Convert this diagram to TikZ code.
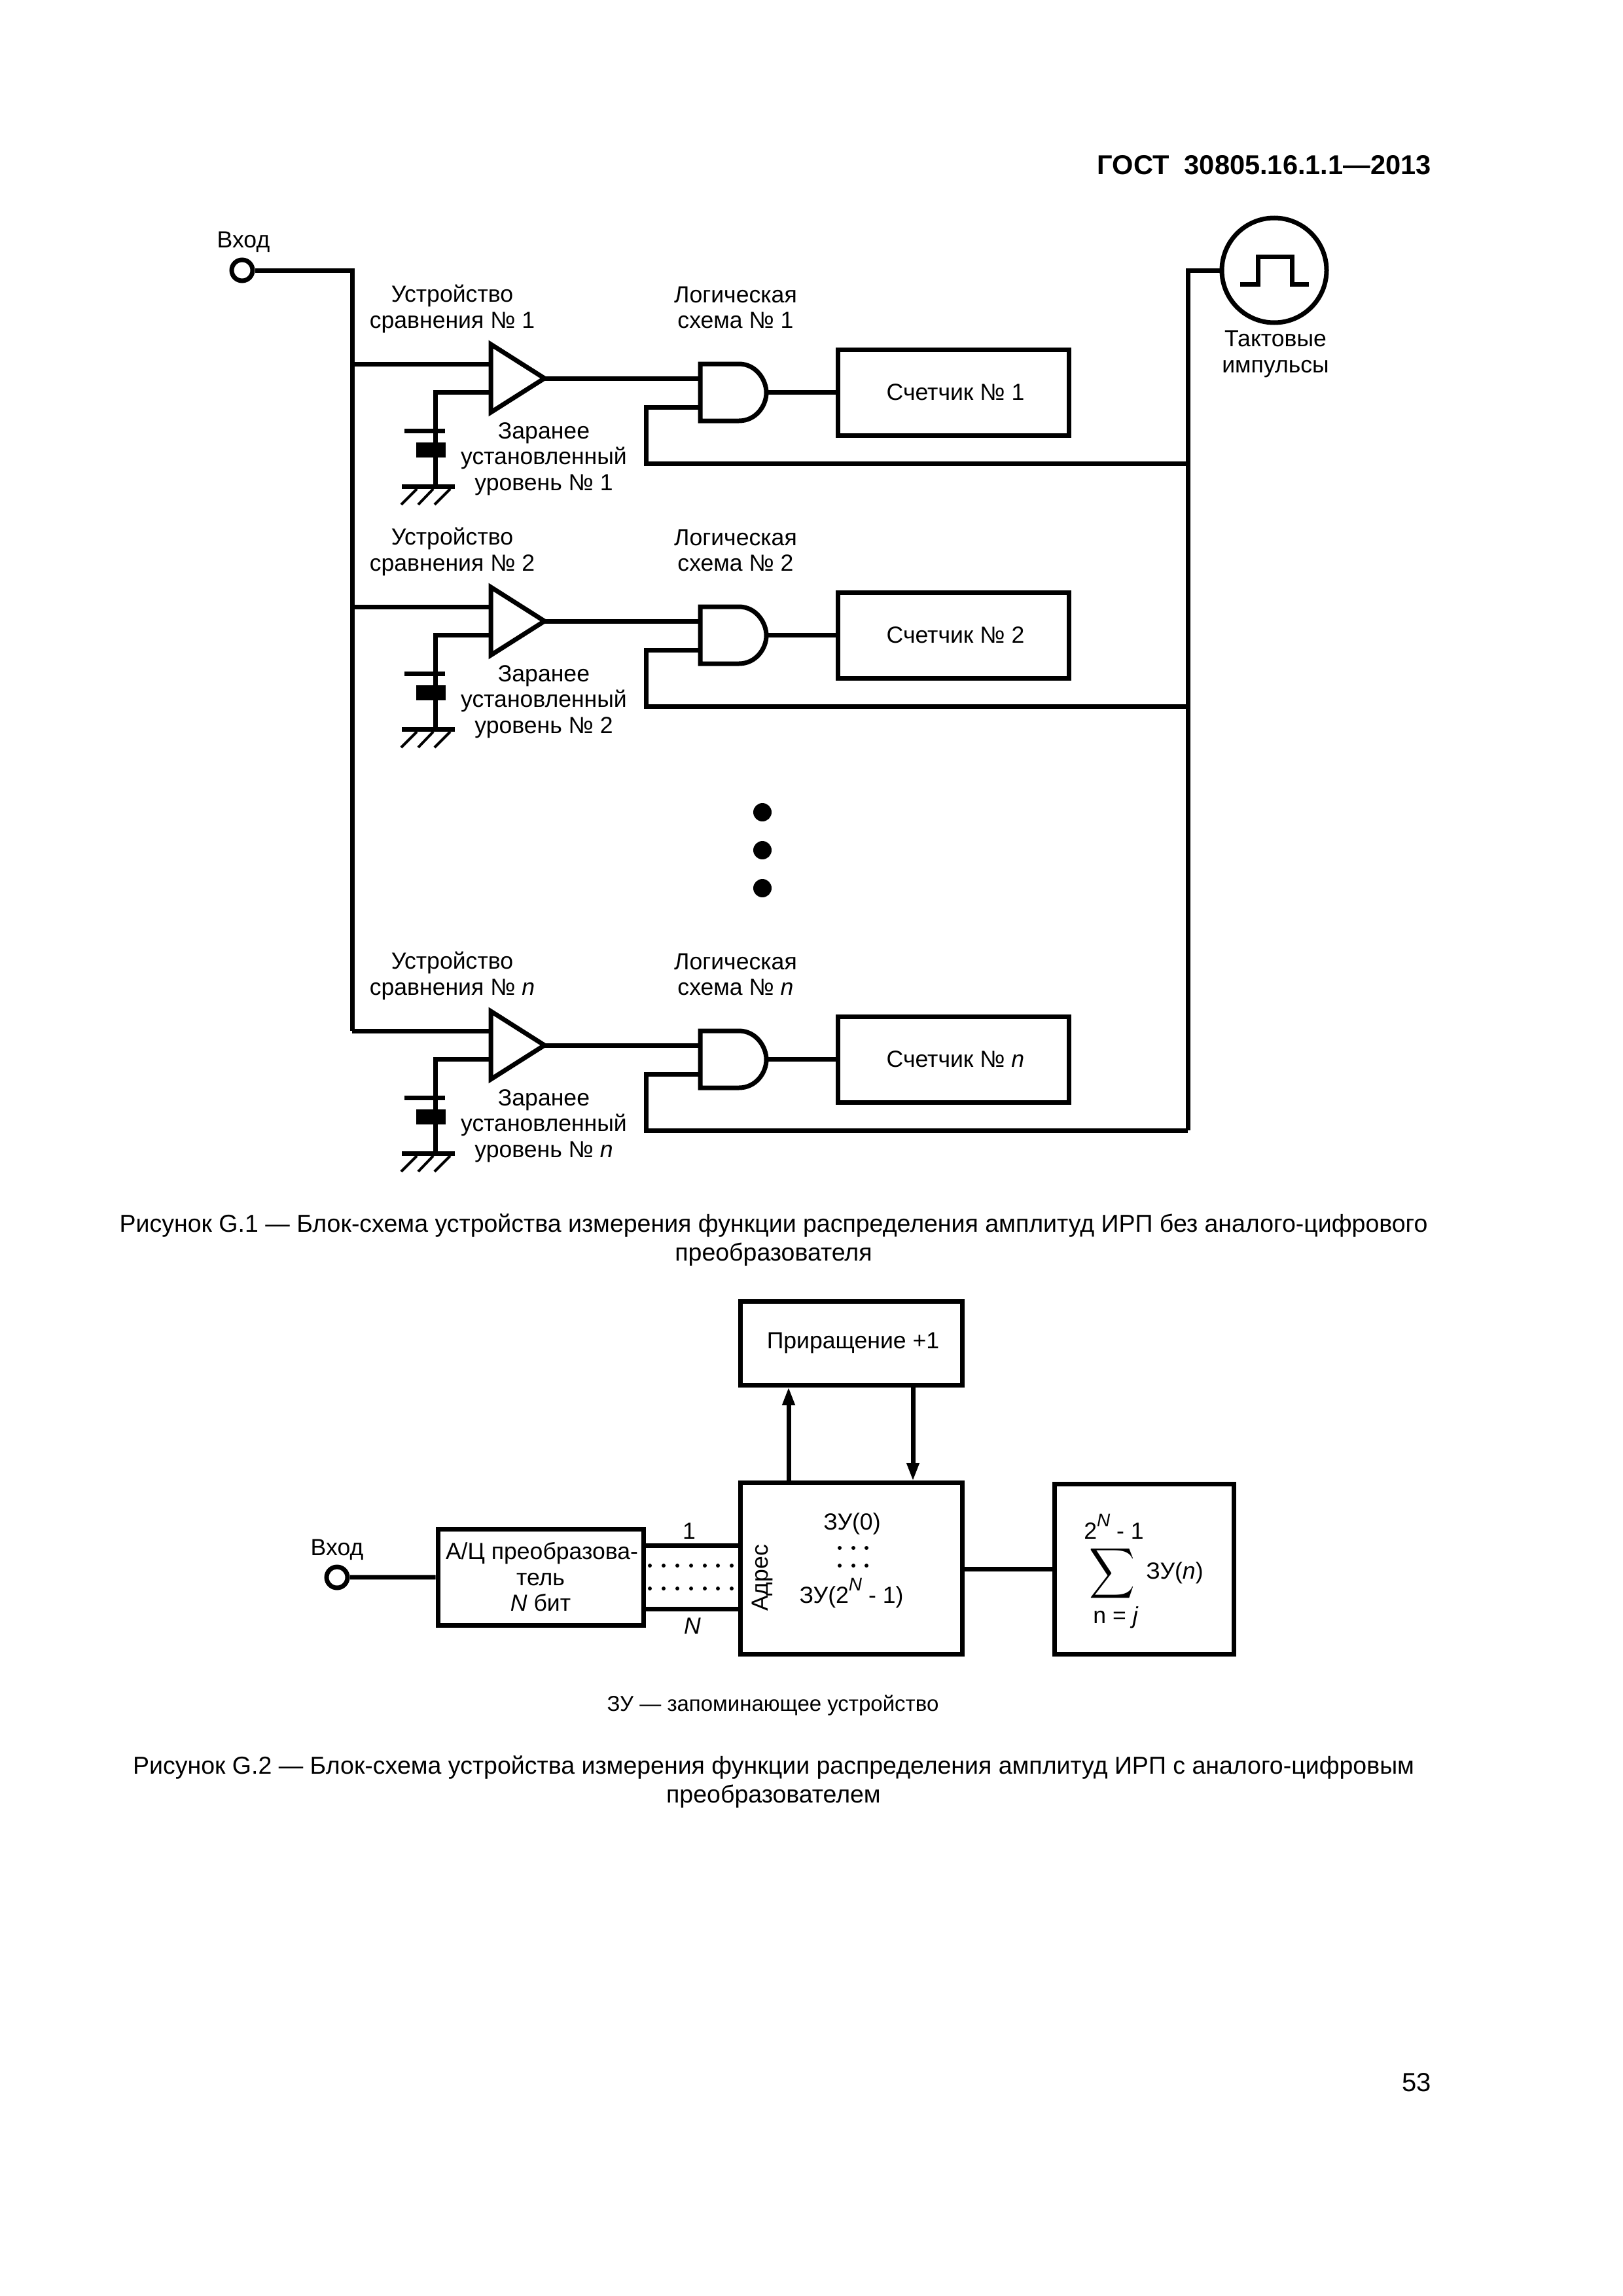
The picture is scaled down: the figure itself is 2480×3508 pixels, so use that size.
\documentclass[tikz,border=0pt]{standalone}
\usepackage{graphicx}
\usepackage{fontspec}
\setmainfont{Liberation Sans}
\usetikzlibrary{arrows.meta}
\newcommand{\fa}{\fontsize{35.6}{39.5}\selectfont}
\newcommand{\fb}{\fontsize{37.5}{44}\selectfont}
\newcommand{\supN}{\raisebox{19pt}{\fontsize{28}{28}\selectfont\textit{N}}}
\begin{document}
\begin{tikzpicture}[x=1pt,y=-1pt,
  wire/.style={line width=7pt,line cap=butt,line join=miter},
  lbl/.style={font=\fa,align=center,inner sep=0pt},
  box/.style={draw,line width=7pt,fill=white,inner sep=0pt},
  term/.style={circle,draw,line width=7pt,fill=white,minimum size=32pt,inner sep=0pt},
  capt/.style={font=\fb,align=center,inner sep=0pt},
  dotm/.style={circle,fill=black,inner sep=0pt,minimum size=6pt},
  arr/.style={-{Triangle[length=28pt,width=18pt]},wire}]
\useasboundingbox (0,0) rectangle (2480,3508);
\fill[white] (0,0) rectangle (2480,3508);
% header
\node[anchor=base east,inner sep=0pt,font=\fontsize{41.6}{46}\selectfont\bfseries] (head) at (2187,267) {ГОСТ\ \ 30805.16.1.1---2013};
\node[anchor=base east,inner sep=0pt,font=\fontsize{40}{46}\selectfont] (page) at (2187,3195) {53};
% figure G.1 common
\node[lbl] (vhod) at (372,370) {Вход};
\node[term] (in) at (370,413) {};
\coordinate (bustop) at (538,413);
\coordinate (busbot) at (538,1575);
\node[circle,draw,line width=7pt,minimum size=160pt,inner sep=0pt] (clk) at (1947,413) {};
\coordinate (ctop) at (1815,413);
\coordinate (cbot) at (1815,1727);
\draw[wire] (in) -- (bustop) -- (busbot);
\draw[wire] (clk.west) -- (ctop) -- (cbot);
\draw[wire] (1895,434) -- (1922,434) -- (1922,392) -- (1974,392) -- (1974,434) -- (2000,434);
\node[lbl] (takt) at (1949,541) {Тактовые\\импульсы};
\foreach \dy/\N/\id in {0/1/a,371/2/b,1019/\textit{n}/c}{
  \begin{scope}[yshift=-\dy pt]
   \coordinate (sl\id) at (538,556);
   \node[lbl] (ucap\id) at (691,472) {Устройство\\сравнения № \N};
   \node[lbl] (lcap\id) at (1124,470) {Логическая\\схема № \N};
   \node[lbl] (rcap\id) at (831,701) {Заранее\\установленный\\уровень № \N};
   \node[box,minimum width=353pt,minimum height=131pt,font=\fa] (cnt\id) at (1457,599.5) {\hspace*{6pt}Счетчик № \N};
   \coordinate (and1\id) at (1070,578);
   \coordinate (and2\id) at (1070,622);
   \coordinate (andout\id) at (1171,599.5);
   % comparator
   \draw[wire] (sl\id) -- (750,556);
   \draw[wire] (750,599) -- (665,599) -- (665,743);
   \draw[wire] (750,526) -- (832,578) -- (750,630) -- cycle;
   \draw[wire] (618,658) -- (680,658);
   \fill (636,676) rectangle (681,699);
   \draw[wire] (614,743.5) -- (695,743.5);
   \draw[line width=4pt] (637,747) -- (613,771) (662,747) -- (639,771) (688,747) -- (664,771);
   % AND gate
   \draw[wire,fill=white] (1070,556) -- (1129,556) .. controls (1155,556) and (1171,580) .. (1171,600) .. controls (1171,620) and (1155,643) .. (1129,643) -- (1070,643) -- cycle;
   \draw[wire] (832,578) -- (and1\id);
   \draw[wire] (and2\id) -- (987,622) -- (987,708) -- (1815,708);
   \draw[wire] (andout\id) -- (cnt\id.west);
  \end{scope}
}
\foreach \y in {1241,1299,1357}{\node[circle,fill=black,inner sep=0pt,minimum size=28pt] (bd\y) at (1165,\y) {};}
\node[capt] (c1) at (1182,1894) {Рисунок G.1 --- Блок-схема устройства измерения функции распределения амплитуд ИРП без аналого-цифрового\\преобразователя};
% figure G.2
\node[lbl] (vhod2) at (515,2368) {Вход};
\node[term] (in2) at (515,2410) {};
\node[box,minimum width=314pt,minimum height=147pt,font=\fa,align=center] (adc) at (826,2409.5) {\hspace*{4pt}А/Ц преобразова-\\тель\\\textit{N} бит};
\node[box,minimum width=339pt,minimum height=128pt,font=\fa] (inc) at (1300.5,2052) {\hspace*{6pt}Приращение +1};
\node[box,minimum width=339pt,minimum height=262pt] (mem) at (1300.5,2396) {};
\node[box,minimum width=274pt,minimum height=260pt] (sum) at (1748,2397) {};
\draw[wire] (in2) -- (adc);
\draw[wire] (983,2361) -- (1131,2361);
\draw[wire] (983,2458) -- (1131,2458);
\foreach \y in {2392,2427}{\foreach \x in {993,1014,1035,1056,1077,1097,1118}{\node[dotm] (d\x-\y) at (\x,\y) {};}}
\node[lbl] (one) at (1053,2339) {1};
\node[lbl] (nn) at (1058,2484) {\textit{N}};
\coordinate (upb) at (1205,2265);
\coordinate (upt) at (1205,2119);
\coordinate (dnt) at (1395,2116);
\coordinate (dnb) at (1395,2263);
\draw[arr] (upb) -- (upt);
\draw[arr] (dnt) -- (dnb);
\draw[wire] (mem.east |- sum.west) -- (sum.west);
\node[lbl,rotate=90] (adr) at (1165,2411) {Адрес};
\node[lbl] (m0) at (1302,2328) {ЗУ(0)};
\foreach \y in {2365,2392}{\foreach \x in {1283,1304,1324}{\node[dotm] (e\x-\y) at (\x,\y) {};}}
\node[lbl,anchor=base] (mN) at (1301,2449) {ЗУ(2\supN\ - 1)};
\node[lbl,anchor=base] (s1) at (1702,2351) {2\supN\ - 1};
\node[inner sep=0pt] (sg) at (1699,2404) {\resizebox*{70pt}{86pt}{$\displaystyle\sum$}};
\node[lbl] (s2) at (1795,2403) {ЗУ(\textit{n})};
\node[lbl,anchor=base] (s3) at (1705,2480) {n = \textit{j}};
\node[lbl,font=\fontsize{33}{38}\selectfont] (note) at (1181,2606) {ЗУ --- запоминающее устройство};
\node[capt] (c2) at (1182,2722) {Рисунок G.2 --- Блок-схема устройства измерения функции распределения амплитуд ИРП с аналого-цифровым\\преобразователем};
\end{tikzpicture}
\end{document}
